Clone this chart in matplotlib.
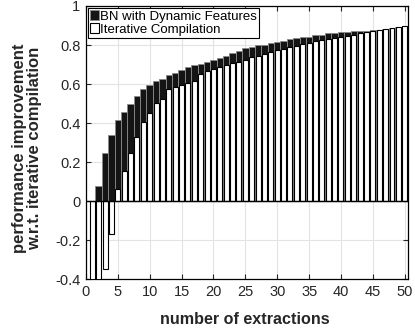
import numpy as np
import matplotlib
matplotlib.use('Agg')
import matplotlib.pyplot as plt

# number of extractions
extractions = list(range(1, 51))

# BN with Dynamic Features
bn_dynamic = [0.0, 0.077, 0.248, 0.338, 0.415, 0.458, 0.496, 0.54, 0.573, 0.593,
              0.614, 0.626, 0.646, 0.656, 0.67, 0.689, 0.70, 0.705, 0.712, 0.723,
              0.732, 0.742, 0.757, 0.768, 0.783, 0.791, 0.798, 0.802, 0.812, 0.815,
              0.822, 0.831, 0.836, 0.839, 0.843, 0.85, 0.853, 0.86, 0.862, 0.865,
              0.868, 0.87, 0.871, 0.874, 0.876, 0.879, 0.883, 0.886, 0.891, 0.896]

# Iterative Compilation
iterative = [-0.6, -0.45, -0.35, -0.171, 0.06, 0.156, 0.244, 0.33, 0.407, 0.453,
             0.504, 0.525, 0.573, 0.583, 0.593, 0.603, 0.617, 0.65, 0.665, 0.677,
             0.685, 0.699, 0.708, 0.715, 0.723, 0.737, 0.745, 0.754, 0.762, 0.774,
             0.781, 0.788, 0.796, 0.805, 0.812, 0.818, 0.826, 0.831, 0.836, 0.843,
             0.848, 0.853, 0.86, 0.865, 0.87, 0.877, 0.882, 0.885, 0.89, 0.896]

x_ticks = [0, 5, 10, 15, 20, 25, 30, 35, 40, 45, 50]
y_ticks = [-0.4, -0.2, 0, 0.2, 0.4, 0.6, 0.8, 1]
y_ticklabels = ['-0.4', '-0.2', '0', '0.2', '0.4', '0.6', '0.8', '1']


def main():
    plt.rcParams['font.family'] = ['Liberation Sans', 'DejaVu Sans']

    fig = plt.figure(figsize=(4.15, 3.33), dpi=100)
    ax = fig.add_axes([0.207, 0.162, 0.776, 0.820])

    ax.bar(extractions, bn_dynamic, width=1.0, color='#141414', edgecolor='#8a8a8a',
           linewidth=0.6, label='BN with Dynamic Features', zorder=2)
    ax.bar(extractions, iterative, width=0.78, color='white', edgecolor='black',
           linewidth=0.8, label='Iterative Compilation', zorder=3)
    ax.axhline(0, color='black', linewidth=1.0, zorder=4)

    ax.set_xlim(0, 50.5)
    ax.set_ylim(-0.4, 1)
    ax.set_xticks(x_ticks)
    ax.set_yticks(y_ticks)
    ax.set_yticklabels(y_ticklabels)
    ax.tick_params(direction='in', top=True, right=True, length=3.5, width=0.8,
                   labelsize=10.5, pad=4, colors='#262626')
    ax.grid(True, color='#e3e3e3', linewidth=0.8, zorder=0)
    ax.set_axisbelow(True)
    for spine in ax.spines.values():
        spine.set_color('black')
        spine.set_linewidth(0.9)

    ax.set_xlabel('number of extractions', fontsize=11.6, fontweight='bold', color='#262626')
    ax.xaxis.set_label_coords(0.494, -0.12)
    ax.set_ylabel('performance improvement\nw.r.t. iterative compilation', fontsize=12,
                  fontweight='bold', color='#262626', linespacing=1.0)
    ax.yaxis.set_label_coords(-0.135, 0.48)

    leg = ax.legend(loc='upper left', bbox_to_anchor=(0.006, 0.993), borderaxespad=0,
                    fontsize=9.5, fancybox=False, edgecolor='black', framealpha=1,
                    borderpad=0.15, labelspacing=0.05, handlelength=0.7,
                    handleheight=0.8, handletextpad=0.1)
    leg.get_frame().set_linewidth(0.8)

    fig.savefig('out.png', dpi=100)


if __name__ == '__main__':
    main()
